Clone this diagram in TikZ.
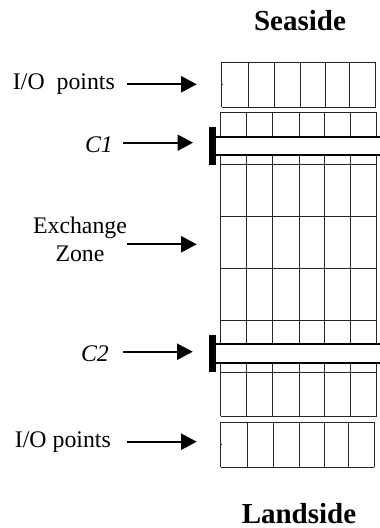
\documentclass[tikz,border=0pt]{standalone}
\usepackage{fontspec}
\setmainfont{Liberation Serif}
\usetikzlibrary{arrows.meta}
\tikzset{
  gridline/.style={draw=black!85,line width=0.9pt},
  rail/.style={draw=black,line width=2pt},
  foot/.style={fill=black,draw=none},
  pointer/.style={draw=black,line width=2pt,-{Triangle[length=15.5pt,width=16pt]}},
  lbl/.style={inner sep=0pt,font=\fontsize{23.8pt}{28pt}\selectfont,align=center},
  ilbl/.style={inner sep=0pt,font=\fontsize{23.8pt}{28pt}\selectfont\itshape},
  head/.style={inner sep=0pt,font=\fontsize{29pt}{34pt}\selectfont\bfseries}
}
\begin{document}
\begin{tikzpicture}[x=1pt,y=-1pt]
\useasboundingbox (0,0) rectangle (380,528);
% top I/O block
\foreach \x in {221.7,248,274.3,300.3,325,349.3,375.7}
  \draw[gridline] (\x,62) -- (\x,107);
\draw[gridline] (221.7,62) -- (375.7,62) (221.7,107) -- (375.7,107);
\draw[gridline] (221.7,84) -- (223,84);
% main grid
\foreach \x in {220.7,246.7,272.7,299,324.7,350.7,376.7}
  \draw[gridline] (\x,112.3) -- (\x,416);
\foreach \y in {112.3,164.3,216.3,268.3,320.7,372.7,416}
  \draw[gridline] (220.7,\y) -- (376.7,\y);
% bottom I/O block
\foreach \x in {220.7,247,273.3,299.7,324,348.7,374.3}
  \draw[gridline] (\x,422.3) -- (\x,467.3);
\draw[gridline] (220.7,422.3) -- (374.3,422.3) (220.7,467.3) -- (374.3,467.3);
\draw[gridline] (220.7,444.7) -- (222,444.7);
% cranes
\fill[white] (212.7,137.3) rectangle (380,155.3);
\fill[white] (212.7,344.3) rectangle (380,362.7);
\draw[rail] (380,137.3) -- (212.7,137.3) (212.7,155.3) -- (380,155.3);
\draw[rail] (380,344.3) -- (212.7,344.3) (212.7,362.7) -- (380,362.7);
\fill[foot] (209.3,127.3) rectangle (215.7,165);
\fill[foot] (209.3,335) rectangle (215.7,372.3);
% labels
\node[head,anchor=base] (sea) at (300,30) {Seaside};
\node[head,anchor=base] (land) at (299,523) {Landside};
\node[lbl,anchor=base east] (io1) at (115,89.5) {I/O\ \ points};
\node[ilbl,anchor=base east] (c1) at (113,152.7) {C1};
\node[lbl,anchor=base] (ex1) at (80,233) {Exchange};
\node[lbl,anchor=base] (ex2) at (80,261) {Zone};
\node[ilbl,anchor=base east] (c2) at (109,361) {C2};
\node[lbl,anchor=base east] (io2) at (111,447.7) {I/O points};
% pointers
\coordinate (a1) at (196.7,84.3);
\coordinate (a2) at (193,142.7);
\coordinate (a3) at (196.7,244.3);
\coordinate (a4) at (192.7,351.7);
\coordinate (a5) at (196.7,441.7);
\draw[pointer] (127,84.3) -- (a1);
\draw[pointer] (123.3,142.7) -- (a2);
\draw[pointer] (127,244.3) -- (a3);
\draw[pointer] (123.3,351.7) -- (a4);
\draw[pointer] (127,441.7) -- (a5);
\end{tikzpicture}
\end{document}
